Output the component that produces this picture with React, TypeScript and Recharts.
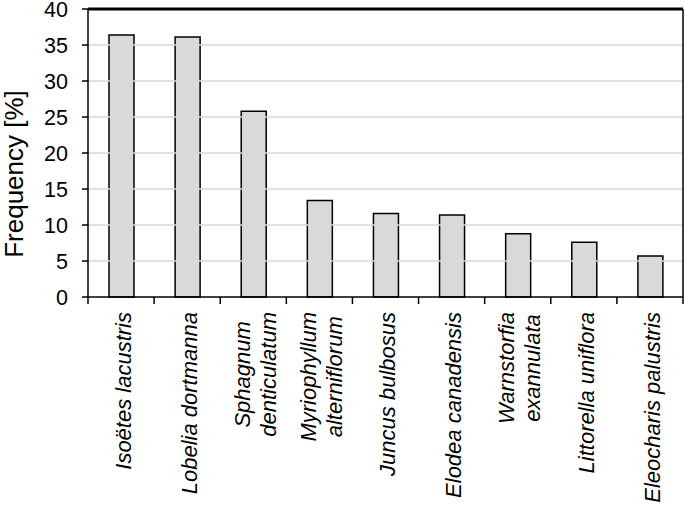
import React from 'react';
import * as R from 'recharts';
import { BarChart, Bar, XAxis, YAxis, ReferenceLine, Customized } from 'recharts';

const categories = [
  'Isoëtes lacustris',
  'Lobelia dortmanna',
  'Sphagnum\ndenticulatum',
  'Myriophyllum\nalterniflorum',
  'Juncus bulbosus',
  'Elodea canadensis',
  'Warnstorfia\nexannulata',
  'Littorella uniflora',
  'Eleocharis palustris',
];
const frequency = [36.4, 36.1, 25.8, 13.4, 11.6, 11.4, 8.8, 7.6, 5.7];
const yTicks = [0, 5, 10, 15, 20, 25, 30, 35, 40];
const gridValues = [5, 10, 15, 20, 25, 30, 35];

const data = categories.map((name, i) => ({ name, value: frequency[i] }));

const FONT = '"Liberation Sans", Arial, Helvetica, sans-serif';
const LABEL_FS = 22;

let ctx: CanvasRenderingContext2D | null = null;
const measure = (s: string) => {
  if (!ctx) {
    const c = document.createElement('canvas');
    ctx = c.getContext('2d');
  }
  if (!ctx) return s.length * LABEL_FS * 0.5;
  ctx.font = `italic ${LABEL_FS}px "Liberation Sans", Arial, sans-serif`;
  return ctx.measureText(s).width;
};

const XTick = (props: any) => {
  const { x, y, payload, index, visibleTicksCount } = props;
  const half = payload && payload.offset ? payload.offset : 33;
  const lines = String(payload.value).split('\n');
  const widths = lines.map(measure);
  const maxW = Math.max(...widths);
  const cy = y + 15 + maxW / 2;
  const lh = 26;
  const count = visibleTicksCount ?? categories.length;
  return (
    <g>
      <line x1={x - half} y1={y} x2={x - half} y2={y + 7} stroke="#000" strokeWidth={1.5} />
      {index === count - 1 && (
        <>
          <line x1={x + half} y1={y} x2={x + half} y2={y + 7} stroke="#000" strokeWidth={1.5} />
          <line x1={x + half} y1={y} x2={x + half} y2={y - 288} stroke="#000" strokeWidth={1.5} />
        </>
      )}
      {lines.map((l, i) => {
        const lx = x + 2 + (i - (lines.length - 1) / 2) * lh;
        return (
          <text
            key={i}
            x={lx}
            y={cy}
            transform={`rotate(-90 ${lx} ${cy})`}
            textAnchor="middle"
            dy="0.35em"
            fontStyle="italic"
            fontSize={LABEL_FS}
            fontFamily={FONT}
            fill="#000"
          >
            {l}
          </text>
        );
      })}
    </g>
  );
};

const YTick = (props: any) => {
  const { x, y, payload, index, visibleTicksCount } = props;
  const count = visibleTicksCount ?? yTicks.length;
  const isTop = index === count - 1;
  return (
    <g>
      <text
        x={x}
        y={y}
        dy="0.35em"
        textAnchor="end"
        fontSize={21.5}
        fontFamily={FONT}
        fill="#000"
      >
        {payload.value}
      </text>
      {isTop && (
        <line x1={x + 20} y1={y} x2={x + 20 + 595} y2={y} stroke="#000" strokeWidth={1.5} />
      )}
    </g>
  );
};

const YLabel = () => {
  const area: any = (R as any).usePlotArea ? (R as any).usePlotArea() : null;
  const y = area ? Number(area.y) : 9;
  const h = area ? Number(area.height) : 288;
  const cy = y + h / 2 + 21;
  return (
    <text
      x={14}
      y={cy}
      transform={`rotate(-90 14 ${cy})`}
      textAnchor="middle"
      dy="0.35em"
      fontSize={26}
      fontFamily={FONT}
      fill="#000"
    >
      Frequency [%]
    </text>
  );
};

export default function App() {
  return (
    <div style={{ position: 'absolute', left: 0, top: 0, background: '#fff' }}>
      <BarChart
        width={685}
        height={505}
        data={data}
        margin={{ top: 9, right: 2, left: 0, bottom: 0 }}
        barSize={25}
      >
        <Customized component={YLabel} />
        {gridValues.map((v) => (
          <ReferenceLine key={v} y={v} stroke="#d9d9d9" strokeWidth={1.5} ifOverflow="visible" />
        ))}
        <XAxis
          dataKey="name"
          height={208}
          interval={0}
          tickLine={false}
          tickSize={0}
          tickMargin={0}
          axisLine={{ stroke: '#000', strokeWidth: 1.5 }}
          tick={<XTick />}
        />
        <YAxis
          width={88}
          domain={[0, 40]}
          ticks={yTicks}
          tickSize={6}
          tickMargin={14}
          tickLine={{ stroke: '#000', strokeWidth: 1.5 }}
          axisLine={{ stroke: '#000', strokeWidth: 1.5 }}
          tick={<YTick />}
        />
        <Bar
          dataKey="value"
          fill="#d9d9d9"
          stroke="#000"
          strokeWidth={1.5}
          isAnimationActive={false}
        />
        <ReferenceLine y={40} stroke="#000" strokeWidth={3} ifOverflow="visible" />
      </BarChart>
    </div>
  );
}
